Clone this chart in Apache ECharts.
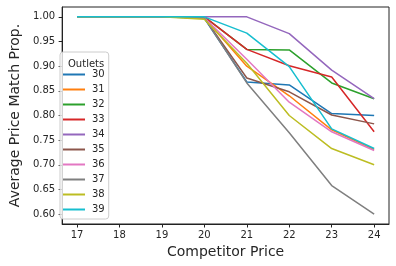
<!DOCTYPE html>
<html><head><meta charset="utf-8">
<script src="https://cdn.jsdelivr.net/npm/echarts@6/dist/echarts.min.js"></script>
<style>html,body{margin:0;padding:0;background:#fff}#c{width:396px;height:266px}</style>
</head><body><div id="c"></div>
<script>
const prices = [17, 18, 19, 20, 21, 22, 23, 24];
const outlets = ['30','31','32','33','34','35','36','37','38','39'];
const s30 = [1, 1, 1, 0.997, 0.868, 0.862, 0.804, 0.800];
const s31 = [1, 1, 1, 0.998, 0.900, 0.840, 0.771, 0.731];
const s32 = [1, 1, 1, 1.000, 0.934, 0.933, 0.866, 0.834];
const s33 = [1, 1, 1, 1.000, 0.934, 0.901, 0.878, 0.767];
const s34 = [1, 1, 1, 1.000, 1.000, 0.966, 0.892, 0.834];
const s35 = [1, 1, 1, 0.998, 0.876, 0.848, 0.801, 0.783];
const s36 = [1, 1, 1, 0.998, 0.914, 0.827, 0.767, 0.729];
const s37 = [1, 1, 1, 0.998, 0.866, 0.765, 0.658, 0.600];
const s38 = [1, 1, 1, 0.995, 0.906, 0.800, 0.733, 0.700];
const s39 = [1, 1, 1, 1.000, 0.967, 0.899, 0.773, 0.733];
const seriesValues = [s30, s31, s32, s33, s34, s35, s36, s37, s38, s39];
const xTicks = [17, 18, 19, 20, 21, 22, 23, 24];
const yTicks = [0.60, 0.65, 0.70, 0.75, 0.80, 0.85, 0.90, 0.95, 1.00];
const colors = ['#1f77b4','#ff7f0e','#2ca02c','#d62728','#9467bd','#8c564b','#e377c2','#7f7f7f','#bcbd22','#17becf'];
const txt = '#262626';
const font = 'DejaVu Sans';

const chart = echarts.init(document.getElementById('c'), null, {renderer: 'canvas'});
chart.setOption({
  animation: false,
  color: colors,
  textStyle: {fontFamily: font},
  title: {
    text: 'Outlets', left: 63, top: 54,
    textStyle: {fontSize: 10, fontWeight: 'normal', color: txt, fontFamily: font}
  },
  grid: {left: 56, top: 7, right: 7, bottom: 42, show: true, borderColor: '#222', borderWidth: 1, backgroundColor: 'transparent'},
  legend: {
    orient: 'vertical', left: 60, top: 52,
    padding: [15, 4, 2, 3],
    backgroundColor: 'rgba(255,255,255,0.8)', borderColor: '#cccccc', borderWidth: 1, borderRadius: 3,
    icon: 'rect', itemWidth: 22, itemHeight: 2, itemGap: 0,
    textStyle: {fontSize: 10, color: txt, lineHeight: 15, fontFamily: font, padding: [0, 0, 0, 2]},
    data: outlets
  },
  xAxis: {
    type: 'value', min: 16.65, max: 24.35,
    name: 'Competitor Price', nameLocation: 'middle', nameGap: 18,
    nameTextStyle: {fontSize: 14, color: txt, fontFamily: font},
    axisLine: {show: true, lineStyle: {color: '#222'}},
    axisTick: {show: true, length: 3.5, lineStyle: {color: '#222'}, customValues: xTicks},
    axisLabel: {fontSize: 10, color: txt, margin: 6, customValues: xTicks, formatter: v => String(v)},
    splitLine: {show: false}
  },
  yAxis: {
    type: 'value', min: 0.58, max: 1.02,
    name: 'Average Price Match Prop.', nameLocation: 'middle', nameGap: 30,
    nameTextStyle: {fontSize: 14, color: txt, fontFamily: font},
    axisLine: {show: true, lineStyle: {color: '#222'}},
    axisTick: {show: true, length: 3.5, lineStyle: {color: '#222'}, customValues: yTicks},
    axisLabel: {fontSize: 10, color: txt, margin: 7, customValues: yTicks, formatter: v => v.toFixed(2)},
    splitLine: {show: false}
  },
  series: outlets.map((name, i) => ({
    name: name, type: 'line', symbol: 'none',
    lineStyle: {width: 1.5},
    data: prices.map((p, j) => [p, seriesValues[i][j]])
  }))
});
</script></body></html>
